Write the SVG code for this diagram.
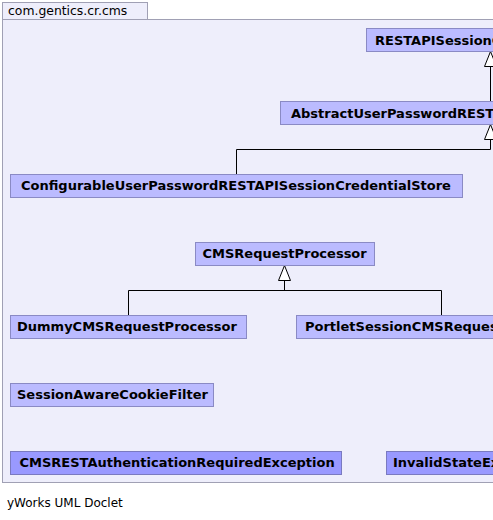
<svg xmlns="http://www.w3.org/2000/svg" width="493" height="520" viewBox="0 0 493 520">
<style>
.pkg{fill:#eeeefb;stroke:#a0a0b4;stroke-width:1}
.n{fill:#bbbbff;stroke:#8a8ac4;stroke-width:1}
.x{fill:#9999ff;stroke:#7a7ac0;stroke-width:1}
.t{font-family:"DejaVu Sans",sans-serif;font-size:13px;font-weight:bold;fill:#000}
.p{font-family:"DejaVu Sans",sans-serif;font-size:12px;fill:#000}
.e{fill:none;stroke:#000;stroke-width:1}
.a{fill:#fff;stroke:#000;stroke-width:1}
</style>
<rect width="493" height="520" fill="#fff"/>
<g id="package">
<rect class="pkg" x="2.5" y="19.5" width="500" height="463"/>
<rect class="pkg" x="2.5" y="2.5" width="145" height="17"/>
<text class="p" x="8" y="15" style="font-size:12.4px">com.gentics.cr.cms</text>
</g>
<g id="connectors">
<path class="e" d="M490.5 124.5V66"/>
<path class="a" d="M490.5 51.5L484.5 66.5H496.5Z"/>
<path class="e" d="M236.5 174.5V149.5H490.5V139"/>
<path class="a" d="M490.5 124.5L484.5 139.5H496.5Z"/>
<path class="e" d="M128.5 315.5V290.5H441.5V315.5M284.5 290.5V280.5"/>
<path class="a" d="M284.5 265.5L278.5 280.5H290.5Z"/>
</g>
<g id="RESTAPISessionCredentialStore">
<rect class="n" x="366.5" y="28.5" width="250" height="23"/>
<text class="t" x="375" y="44.5">RESTAPISessionCredentialStore</text>
</g>
<g id="AbstractUserPasswordRESTAPISessionCredentialStore">
<rect class="n" x="280.5" y="101.5" width="420" height="23"/>
<text class="t" x="291" y="117.5">AbstractUserPasswordRESTAPISessionCredentialStore</text>
</g>
<g id="ConfigurableUserPasswordRESTAPISessionCredentialStore">
<rect class="n" x="10.5" y="174.5" width="452" height="23"/>
<text class="t" x="21" y="190">ConfigurableUserPasswordRESTAPISessionCredentialStore</text>
</g>
<g id="CMSRequestProcessor">
<rect class="n" x="195.5" y="242.5" width="179" height="23"/>
<text class="t" x="202.5" y="258">CMSRequestProcessor</text>
</g>
<g id="DummyCMSRequestProcessor">
<rect class="n" x="10.5" y="315.5" width="236" height="23"/>
<text class="t" x="17" y="331">DummyCMSRequestProcessor</text>
</g>
<g id="PortletSessionCMSRequestProcessor">
<rect class="n" x="296.5" y="315.5" width="300" height="23"/>
<text class="t" x="305" y="331">PortletSessionCMSRequestProcessor</text>
</g>
<g id="SessionAwareCookieFilter">
<rect class="n" x="10.5" y="383.5" width="203" height="23"/>
<text class="t" x="17" y="399">SessionAwareCookieFilter</text>
</g>
<g id="CMSRESTAuthenticationRequiredException">
<rect class="x" x="10.5" y="451.5" width="331" height="23"/>
<text class="t" x="19.5" y="467">CMSRESTAuthenticationRequiredException</text>
</g>
<g id="InvalidStateException">
<rect class="x" x="386.5" y="451.5" width="200" height="23"/>
<text class="t" x="393" y="467">InvalidStateException</text>
</g>
<text class="p" x="7" y="507">yWorks UML Doclet</text>
</svg>
